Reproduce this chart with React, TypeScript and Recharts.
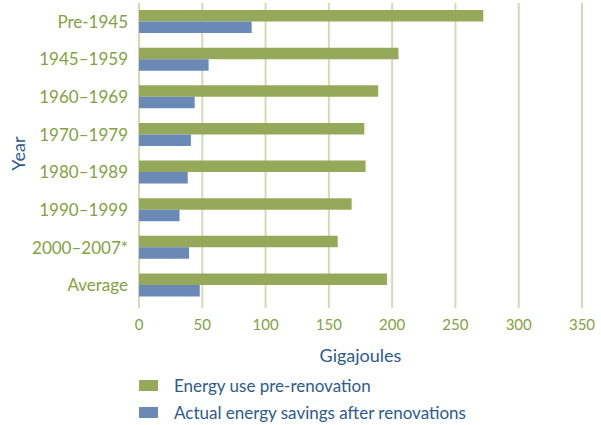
import { BarChart, Bar, XAxis, YAxis, CartesianGrid, Label } from "recharts";

const years = [
  "Pre-1945",
  "1945–1959",
  "1960–1969",
  "1970–1979",
  "1980–1989",
  "1990–1999",
  "2000–2007*",
  "Average",
];
const preRenovation = [272, 205, 189, 178, 179, 168, 157, 196];
const actualSavings = [89, 55, 44, 41, 38.5, 32, 39.5, 48];
const xTicks = [0, 50, 100, 150, 200, 250, 300, 350];

const GREEN = "#96a95a";
const BLUE = "#6a89b6";
const GRID = "#d3dbb5";
const LABEL_GREEN = "#86a040";
const TITLE_BLUE = "#2d5b8c";
const FONT = "Lato, 'Open Sans', sans-serif";

const data = years.map((year, i) => ({
  year,
  pre: preRenovation[i],
  savings: actualSavings[i],
}));

const legendItems = [
  { name: "Energy use pre-renovation", color: GREEN },
  { name: "Actual energy savings after renovations", color: BLUE },
];

function LegendBox() {
  return (
    <div style={{ position: "absolute", left: 139, top: 372, fontFamily: FONT }}>
      {legendItems.map((item) => (
        <div key={item.name} style={{ display: "flex", alignItems: "center", height: 27 }}>
          <div style={{ width: 19, height: 11, background: item.color, marginRight: 16 }} />
          <span style={{ color: TITLE_BLUE, fontSize: 17 }}>{item.name}</span>
        </div>
      ))}
    </div>
  );
}

function YearLabel(props: any) {
  const { viewBox } = props;
  const x = 18;
  const y = viewBox.y + viewBox.height / 2;
  return (
    <text
      x={x}
      y={y}
      transform={`rotate(-90 ${x} ${y})`}
      textAnchor="middle"
      dominantBaseline="central"
      fill={TITLE_BLUE}
      fontSize={18}
      fontFamily={FONT}
    >
      Year
    </text>
  );
}

export default function App() {
  return (
    <div style={{ position: "absolute", left: 0, top: 0, width: 601, height: 425, background: "#fff" }}>
      <BarChart
        width={601}
        height={425}
        data={data}
        layout="vertical"
        margin={{ top: 3, right: 19, left: 0, bottom: 61 }}
        barSize={11.5}
        barGap={0}
      >
        <CartesianGrid horizontal={false} stroke={GRID} strokeWidth={2} />
        <XAxis
          type="number"
          domain={[0, 350]}
          ticks={xTicks}
          axisLine={false}
          tickLine={{ stroke: GRID, strokeWidth: 2 }}
          tickSize={4}
          tickMargin={11}
          height={60}
          tick={{ fill: LABEL_GREEN, fontSize: 15, fontFamily: FONT }}
        >
          <Label
            value="Gigajoules"
            position="insideBottom"
            offset={2}
            fill={TITLE_BLUE}
            fontSize={18}
            fontFamily={FONT}
          />
        </XAxis>
        <YAxis
          type="category"
          dataKey="year"
          width={139}
          axisLine={false}
          tickLine={false}
          tickSize={0}
          tickMargin={11}
          tick={{ fill: LABEL_GREEN, fontSize: 17, fontFamily: FONT }}
        >
          <Label content={<YearLabel />} />
        </YAxis>
        <Bar dataKey="pre" fill={GREEN} isAnimationActive={false} />
        <Bar dataKey="savings" fill={BLUE} isAnimationActive={false} />
      </BarChart>
      <LegendBox />
    </div>
  );
}
